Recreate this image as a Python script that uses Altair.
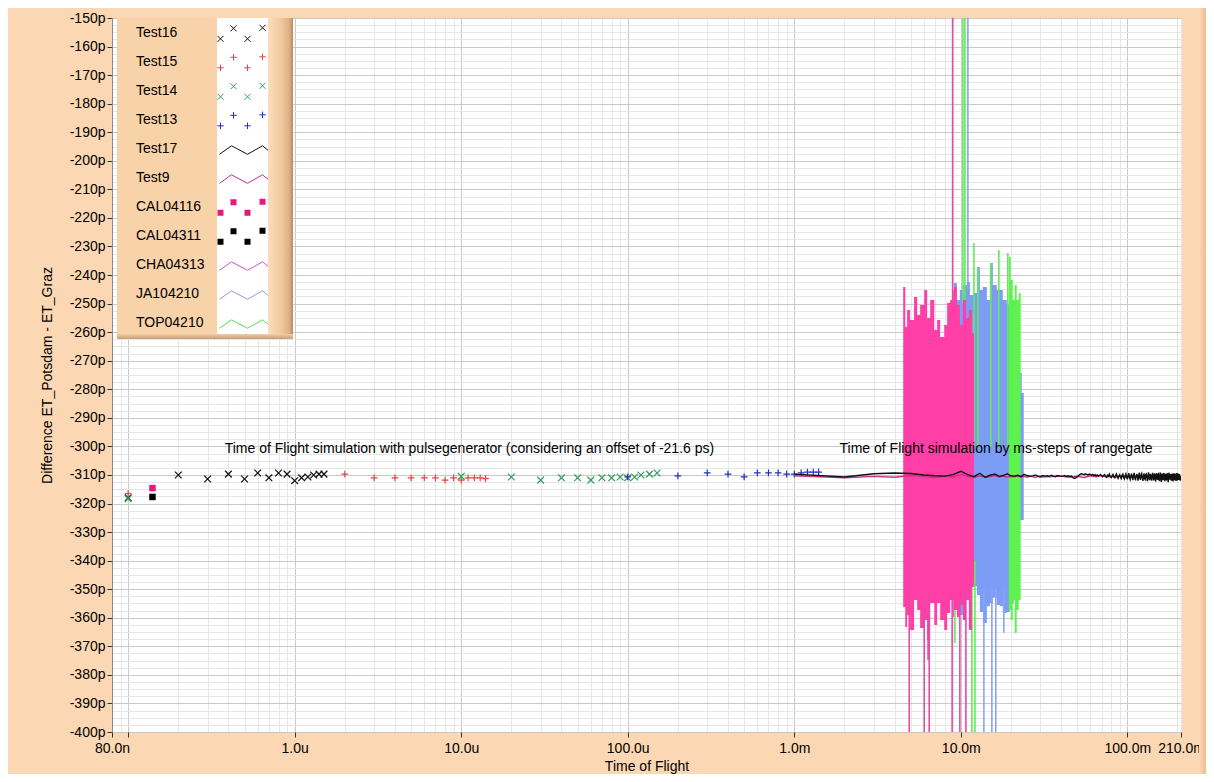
import json
import altair as alt
import pandas as pd

# ---------------- data ----------------
# marker series: time of flight [s] and difference [ps]
test16_x = [1e-7, 2e-7, 3e-7, 4e-7, 5e-7, 6e-7, 7e-7, 8e-7, 9e-7, 1.0e-6, 1.1e-6, 1.2e-6, 1.3e-6, 1.4e-6, 1.5e-6]
test16_y = [-318.0, -310.0, -311.4, -309.7, -311.4, -309.3, -311.0, -309.3, -309.7, -312.0, -311.0, -310.7, -310.0, -309.7, -309.7]

test15_x = [1e-7, 2e-6, 3e-6, 4e-6, 5e-6, 6e-6, 7e-6, 8e-6, 9e-6, 1e-5, 1.1e-5, 1.2e-5, 1.3e-5, 1.4e-5]
test15_y = [-316.5, -309.7, -311.0, -311.0, -311.0, -311.0, -311.0, -311.8, -311.0, -311.8, -311.0, -311.0, -311.0, -311.3]

test14_x = [1e-7, 1e-5, 2e-5, 3e-5, 4e-5, 5e-5, 6e-5, 7e-5, 8e-5, 9e-5, 1e-4, 1.1e-4, 1.2e-4, 1.35e-4, 1.5e-4]
test14_y = [-318.3, -310.5, -310.7, -311.8, -311.0, -311.0, -311.8, -311.0, -311.0, -310.7, -311.0, -310.7, -310.0, -309.7, -309.3]

test13_x = [1e-4, 2e-4, 3e-4, 4e-4, 5e-4, 6e-4, 7e-4, 8e-4, 9e-4, 1e-3, 1.1e-3, 1.2e-3, 1.3e-3, 1.4e-3]
test13_y = [-310.7, -310.3, -309.3, -309.7, -310.7, -309.3, -309.3, -309.3, -309.7, -309.7, -309.3, -309.0, -309.0, -309.0]

cal04116_x = [1.4e-7]
cal04116_y = [-314.6]
cal04311_x = [1.4e-7]
cal04311_y = [-317.7]

# rangegate simulation, ms steps
test17_ms = list(range(1, 211))
test17_y = [
    -309.7, -310.7, -309.6, -309.3, -309.5, -310.0, -310.3, -310.4, -309.9, -308.7,
    -309.9, -310.6, -309.4, -310.8, -310.1, -309.7, -310.5, -310.2, -309.6, -310.3,
    -310.4, -310.1, -310.6, -309.8, -310.2, -310.5, -310.3, -310.0, -310.4, -310.6,
    -310.2, -310.4, -310.3, -310.5, -310.1, -310.4, -310.6, -310.2, -310.3, -310.5,
    -310.4, -310.2, -310.6, -310.3, -310.5, -310.4, -310.9, -311.2, -311.0, -310.6,
    -310.2, -309.8, -309.6, -309.7, -309.9, -309.6, -309.8, -310.0, -309.7, -309.9,
    -310.1, -309.8, -310.2, -309.9, -310.3, -310.0, -310.4, -310.1, -309.8, -310.3,
    -310.6, -310.2, -309.9, -310.5, -310.8, -310.1, -310.4, -309.7, -310.6, -310.9,
    -310.3, -309.8, -310.7, -311.0, -310.2, -309.6, -310.5, -311.2, -310.4, -309.9,
    -310.8, -311.3, -310.1, -309.7, -310.9, -311.4, -310.3, -309.6, -310.7, -311.5,
    -310.2, -309.4, -310.8, -311.6, -310.5, -309.5, -310.9, -311.8, -310.1, -309.3,
    -311.0, -311.9, -310.4, -309.6, -310.6, -312.0, -310.2, -309.2, -311.1, -311.7,
    -310.0, -309.5, -310.8, -312.1, -310.6, -309.4, -311.3, -311.6, -309.9, -309.7,
    -310.9, -312.2, -310.3, -309.1, -311.0, -311.8, -310.1, -309.6, -311.4, -312.0,
    -310.5, -309.3, -310.7, -311.9, -310.2, -309.5, -311.2, -312.3, -310.0, -309.4,
    -311.1, -311.7, -309.8, -309.6, -311.5, -312.1, -310.4, -309.2, -310.9, -312.4,
    -310.6, -309.5, -311.3, -311.8, -310.0, -309.3, -311.0, -312.2, -310.3, -309.6,
    -311.4, -311.9, -309.9, -309.4, -310.8, -312.5, -310.5, -309.2, -311.2, -311.6,
    -310.1, -309.7, -311.5, -312.0, -310.2, -309.5, -310.9, -312.3, -310.7, -309.4,
    -311.1, -311.8, -310.0, -309.6, -311.3, -312.1, -310.4, -309.3, -310.8, -311.9,
    -310.6, -309.5, -311.2, -311.7, -310.1, -309.8, -311.0, -312.0, -310.5, -310.9,
]
test9_ms = list(range(1, 31)) + list(range(35, 201, 5))
test9_y = [
    -310.3, -311.0, -310.5, -310.8, -310.2, -310.6, -310.9, -310.4, -310.7, -309.9,
    -310.5, -310.8, -310.3, -310.9, -310.6, -310.2, -310.7, -310.4, -310.8, -310.5,
    -310.6, -310.3, -310.7, -310.5, -310.8, -310.4, -310.6, -310.9, -310.5, -310.7,
    -310.6, -310.4, -310.8, -310.5, -310.9, -310.3, -310.6, -310.2, -310.7, -310.5,
    -310.8, -310.4, -310.6, -310.9, -310.3, -310.7, -310.5, -311.0, -310.4, -310.6,
    -310.8, -310.3, -310.7, -310.5, -310.9, -310.4, -310.6, -311.0, -310.5, -310.7,
    -310.3, -310.8, -310.6, -310.4,
]

# noisy series: envelope (upper / lower) in ms and ps
cha_ms = [4.51, 4.64, 4.76, 4.96, 5.24, 5.47, 5.70, 6.03, 6.28, 6.55, 6.93, 7.21, 7.52,
          7.95, 8.28, 8.63, 9.00, 9.10, 9.47, 9.87, 10.30, 10.73, 11.18, 11.66, 11.99]
cha_top = [-244.2, -258.2, -252.2, -255.7, -247.7, -254.0, -250.5, -245.2, -255.0, -248.7,
           -259.2, -255.7, -261.7, -257.5, -249.8, -248.7, -245.2, -244.2, -250.5, -257.5,
           -248.7, -255.0, -252.2, -260.3, -260.3]
cha_bot = [-356.2, -363.2, -359.0, -364.3, -353.8, -357.3, -363.6, -360.8, -367.8, -354.8,
           -362.5, -354.8, -360.8, -364.3, -358.3, -353.8, -359.7, -357.3, -359.7, -355.5,
           -360.8, -353.8, -364.3, -349.2, -349.2]
cha_spike_ms = [4.90, 6.03, 6.36, 6.46, 8.87, 9.87, 10.73, 8.93]
cha_spike_hi = [-350.0, -350.0, -350.0, -350.0, -350.0, -350.0, -350.0, -140.0]
cha_spike_lo = [-410.0, -410.0, -374.8, -410.0, -410.0, -410.0, -410.0, -250.0]

ja_ms = [9.10, 9.47, 9.87, 10.30, 10.88, 11.34, 11.99, 12.49, 13.02, 13.57, 14.34, 14.94,
         15.57, 16.45, 17.15, 17.87, 18.89, 19.69, 20.79, 21.66, 22.58, 23.21, 23.87]
ja_top = [-242.8, -248.7, -245.2, -243.5, -242.4, -247.0, -246.3, -237.2, -245.2, -244.2,
          -248.7, -235.8, -243.5, -245.2, -245.2, -248.7, -250.5, -249.8, -251.2, -252.2,
          -274.3, -281.3, -281.3]
ja_bot = [-357.3, -353.8, -359.0, -350.3, -353.8, -346.8, -349.0, -352.0, -358.0, -361.8,
          -356.0, -354.8, -353.0, -355.5, -356.0, -358.3, -358.0, -355.0, -350.3, -325.8,
          -325.8, -325.8, -325.8]
ja_spike_ms = [13.76, 15.36, 16.22, 18.12, 11.03]
ja_spike_hi = [-350.0, -350.0, -350.0, -350.0, -140.0]
ja_spike_lo = [-410.0, -410.0, -410.0, -365.3, -245.0]

top_ms = [19.41, 19.95, 20.51, 21.08, 21.66, 22.27, 22.89]
top_top = [-233.7, -241.7, -248.7, -243.5, -248.7, -246.3, -275.7]
top_bot = [-357.3, -360.8, -353.8, -365.3, -357.3, -353.8, -353.8]
top_spike_ms = [10.30, 10.58, 11.99, 12.67, 15.15, 16.92, 19.15, 9.22, 11.66, 12.16]
top_spike_hi = [-140.0, -140.0, -228.8, -237.5, -235.8, -231.2, -232.3, -340.0, -340.0, -340.0]
top_spike_lo = [-250.0, -250.0, -300.0, -300.0, -300.0, -300.0, -300.0, -368.8, -410.0, -410.0]

note_x = [3.8e-7, 1.87e-3]
note_y = [-301.0, -301.0]
note_text = ["Time of Flight simulation with pulsegenerator (considering an offset of -21.6 ps)",
             "Time of Flight simulation by ms-steps of rangegate"]

legend_names = ["Test16", "Test15", "Test14", "Test13", "Test17", "Test9",
                "CAL04116", "CAL04311", "CHA04313", "JA104210", "TOP04210"]

X_DOMAIN = [8e-8, 0.21]
X_TICK_VALUES = [8e-8, 1e-7, 1e-6, 1e-5, 1e-4, 1e-3, 1e-2, 1e-1, 0.21]
X_TICK_LABELS = ["80.0n", "", "1.0u", "10.0u", "100.0u", "1.0m", "10.0m", "100.0m", "210.0m"]
Y_DOMAIN = [-400, -150]

# ---------------- styling ----------------
FONT = "Liberation Sans, Arial, sans-serif"
PEACH = "#FBD8B3"
MAJOR_GRID = "#C9C9C9"
MINOR_GRID = "#E7E7E7"

grid_x = []
for k in range(-8, 0):
    for m in range(1, 10):
        v = m * 10.0 ** k
        if X_DOMAIN[0] < v < X_DOMAIN[1] and all(abs(v - t) > 1e-3 * t for t in X_TICK_VALUES):
            grid_x.append(v)
X_AXIS_VALUES = sorted(X_TICK_VALUES + grid_x)
Y_AXIS_VALUES = [Y_DOMAIN[0] + 2.5 * i for i in range(101)]

is_decade = "abs(log(datum.value)/LN10 - round(log(datum.value)/LN10)) < 0.0001"
is_xtick = f"indexof({json.dumps(X_TICK_VALUES)}, datum.value) >= 0"
is_ymajor = "datum.value % 10 == 0"

x_axis = alt.Axis(
    values=X_AXIS_VALUES,
    labelExpr=f"{json.dumps(X_TICK_LABELS)}[indexof({json.dumps(X_TICK_VALUES)}, datum.value)] || ''",
    tickOpacity={"condition": {"test": is_xtick, "value": 1}, "value": 0},
    gridColor={"condition": {"test": is_decade, "value": MAJOR_GRID}, "value": MINOR_GRID},
    grid=True, gridWidth=1, domain=False,
    tickColor="#333333", tickSize=5, tickWidth=1,
    labelFont=FONT, labelFontSize=14, labelColor="black", labelPadding=4,
    labelFlush=False, labelOverlap=False,
    titleFont=FONT, titleFontSize=14, titleFontWeight="normal", titleColor="black", titlePadding=4,
)
y_axis = alt.Axis(
    values=Y_AXIS_VALUES,
    labelExpr="datum.value % 10 == 0 ? datum.value + 'p' : ''",
    tickOpacity={"condition": {"test": is_ymajor, "value": 1}, "value": 0},
    gridColor={"condition": {"test": is_ymajor, "value": MAJOR_GRID}, "value": MINOR_GRID},
    grid=True, gridWidth=1, domain=True, domainColor="#8A8A8A",
    tickColor="#333333", tickSize=5, tickWidth=1,
    labelFont=FONT, labelFontSize=14, labelColor="black", labelPadding=2,
    labelFlush=False, labelOverlap=False,
    titleFont=FONT, titleFontSize=14, titleFontWeight="normal", titleColor="black", titlePadding=15,
)
x_scale = alt.Scale(type="log", domain=X_DOMAIN, nice=False)
y_scale = alt.Scale(domain=Y_DOMAIN, nice=False, zero=False)
X_TITLE = "Time of Flight"
Y_TITLE = "Difference ET_Potsdam - ET_Graz"


def X(field="x"):
    return alt.X(f"{field}:Q", scale=x_scale, axis=x_axis, title=X_TITLE)


def Y(field="y"):
    return alt.Y(f"{field}:Q", scale=y_scale, axis=y_axis, title=Y_TITLE)


def markers(xs, ys, shape, color, size, filled=False, sw=1.2):
    df = pd.DataFrame({"x": xs, "y": ys})
    return alt.Chart(df).mark_point(shape=shape, filled=filled, color=color, size=size,
                                    strokeWidth=sw, opacity=1, clip=True).encode(x=X(), y=Y())


def band(ms, top, bot, color):
    df = pd.DataFrame({"x": [m / 1000 for m in ms], "top": top, "bot": bot})
    return alt.Chart(df).mark_area(interpolate="step-after", color=color, opacity=1, clip=True).encode(
        x=X(), y=Y("top"), y2=alt.Y2("bot:Q"))


def spikes(ms, hi, lo, color):
    df = pd.DataFrame({"x": [m / 1000 for m in ms], "hi": hi, "lo": lo})
    return alt.Chart(df).mark_rule(color=color, strokeWidth=1.6, clip=True).encode(
        x=X(), y=Y("hi"), y2=alt.Y2("lo:Q"))


def line(ms, ys, color, sw):
    df = pd.DataFrame({"x": [m / 1000 for m in ms], "y": ys})
    return alt.Chart(df).mark_line(color=color, strokeWidth=sw, clip=True).encode(x=X(), y=Y())


XMARK = "M-1,-1L1,1M-1,1L1,-1"
PLUS = "M-1,0L1,0M0,-1L0,1"

C_PINK_BAND = "#FF3EA6"
C_BLUE_BAND = "#7D9CF6"
C_GREEN_BAND = "#5EF24E"

notes_df = pd.DataFrame({"x": note_x, "y": note_y, "label": note_text})
notes = alt.Chart(notes_df).mark_text(align="left", baseline="middle", font=FONT, fontSize=14,
                                      color="black").encode(x=X(), y=Y(), text="label:N")

main = alt.layer(
    band(ja_ms, ja_top, ja_bot, C_BLUE_BAND),
    band(top_ms, top_top, top_bot, C_GREEN_BAND),
    spikes(top_spike_ms, top_spike_hi, top_spike_lo, "#66E85A"),
    spikes(ja_spike_ms, ja_spike_hi, ja_spike_lo, "#8BA4F0"),
    band(cha_ms, cha_top, cha_bot, C_PINK_BAND),
    spikes(cha_spike_ms, cha_spike_hi, cha_spike_lo, "#E848A8"),
    markers(test16_x, test16_y, XMARK, "#111111", 45),
    markers(test15_x, test15_y, PLUS, "#E04545", 45),
    markers(test14_x, test14_y, XMARK, "#2FA05A", 45),
    markers(test13_x, test13_y, PLUS, "#1F2FC8", 45),
    markers(cal04116_x, cal04116_y, "square", "#E8187C", 42, filled=True),
    markers(cal04311_x, cal04311_y, "square", "#000000", 42, filled=True),
    line(test9_ms, test9_y, "#C8308C", 1.4),
    line(test17_ms, test17_y, "#111111", 1.4),
    notes,
)

# ---------------- legend (LabVIEW style plot legend) and frame bevel ----------------
leg_df = pd.DataFrame({"name": legend_names, "row": list(range(len(legend_names)))})
row_y = alt.Y("row:Q", scale=alt.Scale(domain=[0, len(legend_names) - 1], range=[15.3, 305.3]), axis=None)
one = pd.DataFrame({"k": [0]})


def box(x1, x2, y1, y2, color):
    return alt.Chart(one).mark_rect(color=color).encode(
        x=alt.value(x1), x2=alt.value(x2), y=alt.value(y1), y2=alt.value(y2))


bevel = alt.Gradient(gradient="linear", x1=0, y1=0, x2=1, y2=0, stops=[
    alt.GradientStop(offset=0, color="#FBDDBC"),
    alt.GradientStop(offset=0.55, color="#F1C79C"),
    alt.GradientStop(offset=0.85, color="#DEAF84"),
    alt.GradientStop(offset=1, color="#B98C63"),
])
bottom_shade = alt.Gradient(gradient="linear", x1=0, y1=0, x2=0, y2=1, stops=[
    alt.GradientStop(offset=0, color="#F3CDA5"),
    alt.GradientStop(offset=1, color="#C99D74"),
])
frame_right = alt.Gradient(gradient="linear", x1=0, y1=0, x2=1, y2=0, stops=[
    alt.GradientStop(offset=0, color=PEACH),
    alt.GradientStop(offset=0.5, color="#F3CBA2"),
    alt.GradientStop(offset=1, color="#EBBE92"),
])


def pts_path(centres, kind, a):
    parts = []
    for cx, cy in centres:
        if kind == "x":
            parts.append(f"M{cx-a:.3f},{cy-a:.3f}L{cx+a:.3f},{cy+a:.3f}M{cx-a:.3f},{cy+a:.3f}L{cx+a:.3f},{cy-a:.3f}")
        elif kind == "+":
            parts.append(f"M{cx-a:.3f},{cy:.3f}L{cx+a:.3f},{cy:.3f}M{cx:.3f},{cy-a:.3f}L{cx:.3f},{cy+a:.3f}")
        else:
            parts.append(f"M{cx-a:.3f},{cy-a:.3f}L{cx+a:.3f},{cy-a:.3f}L{cx+a:.3f},{cy+a:.3f}L{cx-a:.3f},{cy+a:.3f}Z")
    return "".join(parts)


GLYPH_PTS = [(-0.9, 0.22), (-0.38, -0.2), (0.18, 0.22), (0.78, -0.22)]
ZIGZAG = "M-0.94,0.2L-0.46,-0.14L0.18,0.2L0.78,-0.14L1,0.04"

glyph_style = {
    "Test16": (pts_path(GLYPH_PTS, "x", 0.12), "#111111", False),
    "Test15": (pts_path(GLYPH_PTS, "+", 0.13), "#E04545", False),
    "Test14": (pts_path(GLYPH_PTS, "x", 0.12), "#2FA05A", False),
    "Test13": (pts_path(GLYPH_PTS, "+", 0.13), "#1F2FC8", False),
    "Test17": (ZIGZAG, "#111111", False),
    "Test9": (ZIGZAG, "#C8308C", False),
    "CAL04116": (pts_path(GLYPH_PTS, "sq", 0.12), "#E8187C", True),
    "CAL04311": (pts_path(GLYPH_PTS, "sq", 0.12), "#000000", True),
    "CHA04313": (ZIGZAG, "#D058B0", False),
    "JA104210": (ZIGZAG, "#8CA0E0", False),
    "TOP04210": (ZIGZAG, "#58D858", False),
}

glyphs = []
for name in legend_names:
    path, color, filled = glyph_style[name]
    glyphs.append(
        alt.Chart(leg_df).transform_filter(alt.datum.name == name).mark_point(
            shape=path, size=2500, filled=filled, color=color, strokeWidth=1, opacity=1
        ).encode(x=alt.value(131), y=row_y)
    )

legend_text = alt.Chart(leg_df).mark_text(align="left", baseline="middle", font=FONT, fontSize=14,
                                          color="black").encode(x=alt.value(24), y=row_y, text="name:N")

legend = alt.layer(
    box(1087, 1094, -10, 756, frame_right),
    box(5, 181, 0, 321, "#F8D2A9"),
    box(156, 181, 0, 321, bevel),
    box(5, 181, 316, 321, bottom_shade),
    box(105, 156, 0, 316, "#FFFFFF"),
    legend_text,
    *glyphs,
)

chart = alt.layer(main, legend).resolve_scale(y="independent").properties(
    width=1069, height=714,
    autosize=alt.AutoSizeParams(type="none"),
    padding={"left": 104, "top": 10, "right": 25, "bottom": 42},
    background=PEACH,
).configure_view(fill="white", stroke="#A9A9A9", strokeWidth=1)

chart.save("out.html", embed_options={"renderer": "svg", "actions": False})
